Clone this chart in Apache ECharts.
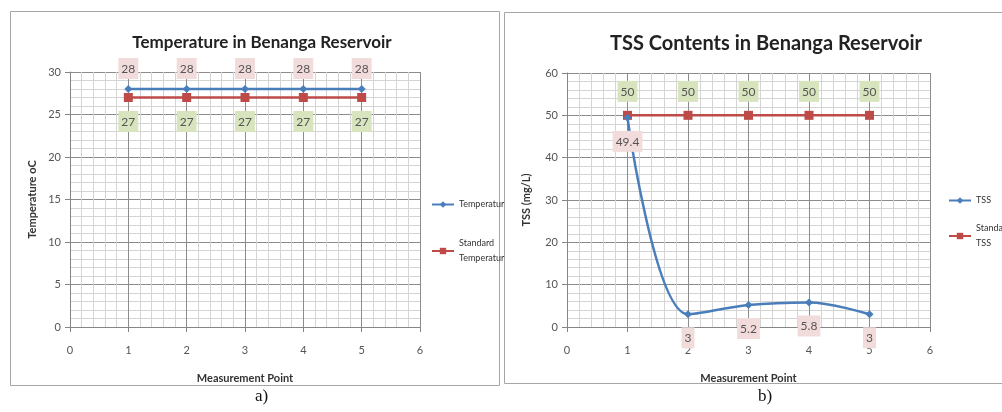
<!DOCTYPE html>
<html>
<head>
<meta charset="utf-8">
<script src="https://cdn.jsdelivr.net/npm/echarts@6/dist/echarts.min.js"></script>
<style>
html,body{margin:0;padding:0;background:#fff;}
#c{width:1002px;height:412px;}
</style>
</head>
<body>
<div id="c"></div>
<script>
var points = [1, 2, 3, 4, 5];
var temperature = [28, 28, 28, 28, 28];
var standardTemperature = [27, 27, 27, 27, 27];
var tss = [49.4, 3, 5.2, 5.8, 3];
var standardTss = [50, 50, 50, 50, 50];

function pairs(ys) { return points.map(function (x, i) { return [x, ys[i]]; }); }

var FONT = 'Lato, "Open Sans", sans-serif';
var BLUE = '#4a7ebb';
var RED = '#be4b48';
var PINK = '#f2dcdb';
var GREEN = '#d7e4bd';

function xAxis(idx) {
  return {
    type: 'value', gridIndex: idx, min: 0, max: 6, interval: 1,
    name: 'Measurement Point', nameLocation: 'middle', nameGap: 46,
    nameTextStyle: { fontFamily: FONT, fontSize: 11, fontWeight: 'bold', color: '#333' },
    axisLine: { show: true, onZero: false, lineStyle: { color: '#868686' } },
    axisTick: { show: true, length: 5, lineStyle: { color: '#868686' } },
    axisLabel: { fontFamily: FONT, fontSize: 11, color: '#555', margin: 18 },
    splitLine: { show: true, lineStyle: { color: '#8c8c8c', width: 1 } },
    minorTick: { show: false, splitNumber: 5 },
    minorSplitLine: { show: true, lineStyle: { color: '#d4d4d4', width: 1 } }
  };
}
function yAxis(idx, max, interval, name, gap) {
  return {
    type: 'value', gridIndex: idx, min: 0, max: max, interval: interval,
    name: name, nameLocation: 'middle', nameGap: gap,
    nameTextStyle: { fontFamily: FONT, fontSize: 11, fontWeight: 'bold', color: '#333' },
    axisLine: { show: true, lineStyle: { color: '#868686' } },
    axisTick: { show: true, length: 5, lineStyle: { color: '#868686' } },
    axisLabel: { fontFamily: FONT, fontSize: 11, color: '#555', margin: 9 },
    splitLine: { show: true, lineStyle: { color: '#8c8c8c', width: 1 } },
    minorTick: { show: false, splitNumber: 5 },
    minorSplitLine: { show: true, lineStyle: { color: '#d4d4d4', width: 1 } }
  };
}
function lbl(pos, bg, dist) {
  return {
    show: true, position: pos, distance: dist,
    fontFamily: FONT, fontSize: 12, color: '#555',
    backgroundColor: bg, padding: [5, 3, 4, 3]
  };
}

var chart = echarts.init(document.getElementById('c'), null, { renderer: 'canvas' });
chart.setOption({
  backgroundColor: '#fff',
  animation: false,
  title: [
    { text: 'Temperature in Benanga Reservoir', left: 257, top: 29, textAlign: 'center',
      textStyle: { fontFamily: FONT, fontSize: 17, fontWeight: 'bold', color: '#222' } },
    { text: 'TSS Contents in Benanga Reservoir', left: 761, top: 29, textAlign: 'center',
      textStyle: { fontFamily: FONT, fontSize: 20, fontWeight: 'bold', color: '#222' } }
  ],
  legend: [
    { data: ['Temperatur', 'Standard\nTemperatur'], orient: 'vertical', left: 426, top: 192,
      itemWidth: 22, itemHeight: 8, itemGap: 24,
      textStyle: { fontFamily: FONT, fontSize: 9, color: '#333', lineHeight: 15 } },
    { data: ['TSS', 'Standard\nTSS'], orient: 'vertical', left: 943, top: 188,
      itemWidth: 22, itemHeight: 8, itemGap: 13,
      textStyle: { fontFamily: FONT, fontSize: 9, color: '#333', lineHeight: 15 } }
  ],
  grid: [
    { left: 70, right: 582, top: 72, bottom: 85 },
    { left: 567, right: 72, top: 73, bottom: 85 }
  ],
  xAxis: [xAxis(0), xAxis(1)],
  yAxis: [yAxis(0, 30, 5, 'Temperature oC', 32), yAxis(1, 60, 10, 'TSS (mg/L)', 35)],
  graphic: [
    { type: 'rect', shape: { x: 10.5, y: 11.5, width: 489, height: 374 },
      style: { fill: 'none', stroke: '#a6a6a6', lineWidth: 1 }, z: -1 },
    { type: 'rect', shape: { x: 504.5, y: 12.5, width: 510, height: 371 },
      style: { fill: 'none', stroke: '#a6a6a6', lineWidth: 1 }, z: -1 },
    { type: 'text', left: 255, top: 388,
      style: { text: 'a)', font: '17px "Liberation Serif", "DejaVu Serif", serif', fill: '#111' } },
    { type: 'text', left: 758, top: 388,
      style: { text: 'b)', font: '17px "Liberation Serif", "DejaVu Serif", serif', fill: '#111' } }
  ],
  series: [
    { name: 'Temperatur', type: 'line', xAxisIndex: 0, yAxisIndex: 0, data: pairs(temperature),
      symbol: 'diamond', symbolSize: 8, lineStyle: { color: BLUE, width: 2.5 },
      itemStyle: { color: BLUE }, label: lbl('top', PINK, 6), z: 3 },
    { name: 'Standard\nTemperatur', type: 'line', xAxisIndex: 0, yAxisIndex: 0, data: pairs(standardTemperature),
      symbol: 'rect', symbolSize: 9, lineStyle: { color: RED, width: 2.5 },
      itemStyle: { color: RED }, label: lbl('bottom', GREEN, 9), z: 2 },
    { name: 'TSS', type: 'line', xAxisIndex: 1, yAxisIndex: 1, data: pairs(tss), smooth: 0.35,
      symbol: 'diamond', symbolSize: 8, lineStyle: { color: BLUE, width: 2.5 },
      itemStyle: { color: BLUE }, label: lbl('bottom', PINK, 9), z: 3 },
    { name: 'Standard\nTSS', type: 'line', xAxisIndex: 1, yAxisIndex: 1, data: pairs(standardTss),
      symbol: 'rect', symbolSize: 9, lineStyle: { color: RED, width: 2.5 },
      itemStyle: { color: RED }, label: lbl('top', GREEN, 9), z: 2 }
  ]
});
</script>
</body>
</html>
